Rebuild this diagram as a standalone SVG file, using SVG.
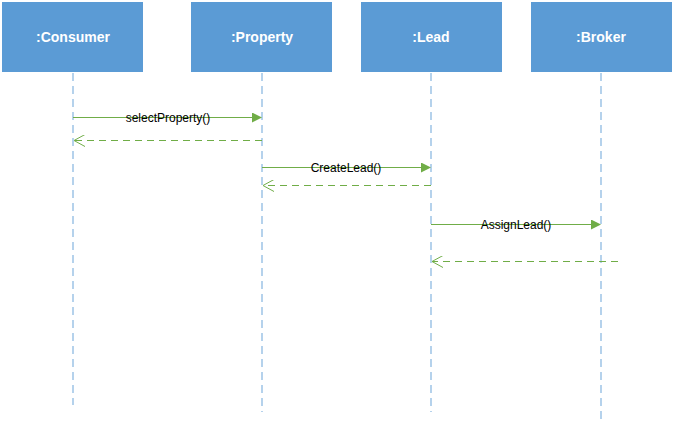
<svg xmlns="http://www.w3.org/2000/svg" width="674" height="424" viewBox="0 0 674 424">
<defs>
<style>
.box{fill:#5B9BD5;stroke:#FFFFFF;stroke-width:1}
.lbl{font-family:"Liberation Sans",Arial,sans-serif;font-size:14px;font-weight:bold;fill:#FFFFFF;text-anchor:middle}
.life{stroke:#9DC3E6;stroke-width:1.5;stroke-dasharray:8,5;fill:none}
.msg{stroke:#70AD47;stroke-width:1;fill:none}
.ret{stroke:#70AD47;stroke-width:1;stroke-dasharray:7,5;fill:none}
.mt{font-family:"Liberation Sans",Arial,sans-serif;font-size:12px;fill:#000000;text-anchor:middle}
</style>
<marker id="filled" markerWidth="10" markerHeight="10" refX="9" refY="5" orient="auto" markerUnits="userSpaceOnUse">
<path d="M0,0 L10,5 L0,10 Z" fill="#70AD47"/>
</marker>
<marker id="open" markerWidth="12" markerHeight="12" refX="11" refY="6" orient="auto" markerUnits="userSpaceOnUse">
<path d="M0,0 L11,6 L0,12" fill="none" stroke="#70AD47" stroke-width="1"/>
</marker>
</defs>
<rect width="674" height="424" fill="#FFFFFF"/>
<g id="lifelines">
<line class="life" x1="73" y1="73" x2="73" y2="405"/>
<line class="life" x1="262" y1="73" x2="262" y2="412"/>
<line class="life" x1="431" y1="73" x2="431" y2="412"/>
<line class="life" x1="601" y1="73" x2="601" y2="424"/>
</g>
<g id="consumer"><rect class="box" x="1.5" y="1.5" width="142" height="71"/><text class="lbl" x="73" y="42">:Consumer</text></g>
<g id="property"><rect class="box" x="190.5" y="1.5" width="142" height="71"/><text class="lbl" x="262" y="42">:Property</text></g>
<g id="lead"><rect class="box" x="360.5" y="1.5" width="142" height="71"/><text class="lbl" x="431" y="42">:Lead</text></g>
<g id="broker"><rect class="box" x="530.5" y="1.5" width="142" height="71"/><text class="lbl" x="601" y="42">:Broker</text></g>
<g id="connectors">
<line class="msg" x1="73" y1="117.5" x2="261" y2="117.5" marker-end="url(#filled)"/>
<text class="mt" x="168" y="122">selectProperty()</text>
<line class="ret" x1="262" y1="140.5" x2="74" y2="140.5" marker-end="url(#open)"/>
<line class="msg" x1="262" y1="167.5" x2="430" y2="167.5" marker-end="url(#filled)"/>
<text class="mt" x="346" y="172">CreateLead()</text>
<line class="ret" x1="431" y1="185.5" x2="263" y2="185.5" marker-end="url(#open)"/>
<line class="msg" x1="431" y1="224.5" x2="600" y2="224.5" marker-end="url(#filled)"/>
<text class="mt" x="516" y="229">AssignLead()</text>
<line class="ret" x1="618" y1="261.5" x2="432" y2="261.5" marker-end="url(#open)"/>
</g>
</svg>
